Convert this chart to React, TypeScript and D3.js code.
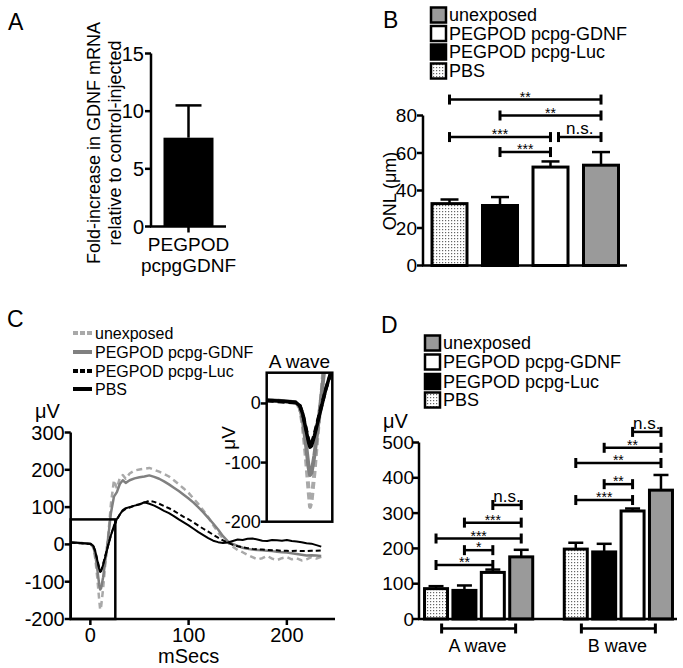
import React from "react";
import * as d3 from "d3";

const FONT = "'Liberation Sans', Arial, Helvetica, sans-serif";

// ---------- Panel A ----------
const foldCategory = ["PEGPOD pcpgGDNF"];
const foldLabelLines = ["PEGPOD", "pcpgGDNF"];
const foldMean = [7.7];
const foldErr = [2.8];
const foldTicks = [0, 5, 10, 15];

// ---------- Groups (B, D) ----------
const groupNames = ["PBS", "PEGPOD pcpg-Luc", "PEGPOD pcpg-GDNF", "unexposed"];
const legendOrder = ["unexposed", "PEGPOD pcpg-GDNF", "PEGPOD pcpg-Luc", "PBS"];

// ---------- Panel B ----------
const onlMean = [33, 32, 52.5, 53.5];
const onlErr = [2.2, 4.5, 3, 7];
const onlTicks = [0, 20, 40, 60, 80];
const onlBrackets: [number, number, number, string][] = [
  [0, 3, 88.5, "**"],
  [1, 3, 80, "**"],
  [0, 2, 68.5, "***"],
  [2, 3, 68.5, "n.s."],
  [1, 2, 60.5, "***"],
];

// ---------- Panel D ----------
const waveNames = ["A wave", "B wave"];
const aWaveMean = [86, 81, 132, 176];
const aWaveErr = [7, 14, 8, 20];
const bWaveMean = [198, 190, 306, 365];
const bWaveErr = [18, 23, 7, 43];
const waveTicks = [0, 100, 200, 300, 400, 500];
const aWaveBrackets: [number, number, number, string][] = [
  [0, 2, 153, "**"],
  [1, 2, 195, "*"],
  [0, 3, 228, "***"],
  [1, 3, 273, "***"],
  [2, 3, 323, "n.s."],
];
const bWaveBrackets: [number, number, number, string][] = [
  [0, 2, 337, "***"],
  [1, 2, 382, "**"],
  [0, 3, 442, "**"],
  [1, 3, 485, "**"],
  [2, 3, 530, "n.s."],
];

// ---------- Panel C (ERG traces) ----------
const ergTime = [-20, -10, 0, 3, 5, 7, 9, 10, 11, 13, 15, 18, 21, 24, 27, 30, 33, 36, 40,
  45, 50, 55, 60, 65, 70, 75, 80, 85, 90, 95, 100, 105, 110, 115, 120, 125, 130, 135, 140,
  145, 150, 155, 160, 165, 170, 175, 180, 185, 190, 195, 200, 205, 210, 215, 220, 225, 230, 235];
const ergPbs = [5, 4, 2, -4, -18, -42, -66, -74, -72, -55, -35, -5, 25, 50, 68, 80, 92, 97, 100,
  104, 107, 113, 109, 104, 97, 90, 84, 76, 67, 59, 51, 42, 33, 25, 17, 10, 6, 4, 5,
  9, 13, 12, 15, 16, 13, 10, 9, 12, 11, 10, 12, 9, 8, 6, 3, 2, -2, -6];
const ergLuc = [5, 3, 1, -4, -18, -40, -62, -70, -68, -52, -32, -3, 25, 48, 66, 80, 90, 95, 99,
  104, 108, 112, 117, 114, 109, 103, 97, 90, 82, 74, 67, 59, 50, 42, 34, 26, 18, 11, 4,
  -1, -5, -8, -10, -12, -13, -14, -15, -16, -16, -17, -17, -18, -17, -18, -18, -17, -17, -16];
const ergGdnf = [6, 4, 2, -6, -28, -65, -108, -121, -117, -88, -48, 15, 85, 128, 140, 162, 172, 165, 172,
  177, 180, 182, 185, 181, 176, 169, 161, 152, 143, 133, 123, 112, 99, 86, 71, 56, 40, 22, 8,
  1, -4, -9, -12, -14, -15, -16, -17, -18, -20, -21, -22, -24, -26, -28, -30, -29, -30, -31];
const ergUnexposed = [6, 4, 2, -8, -38, -88, -148, -175, -166, -118, -58, 18, 110, 172, 150, 178, 186, 176, 190,
  198, 201, 203, 205, 200, 195, 189, 182, 172, 161, 150, 138, 123, 108, 91, 73, 52, 32, 16, 5,
  -6, -15, -21, -28, -34, -40, -37, -31, -38, -42, -37, -34, -40, -37, -43, -40, -34, -38, -33];
const ergSeries = [
  { name: "unexposed", values: ergUnexposed },
  { name: "PEGPOD pcpg-GDNF", values: ergGdnf },
  { name: "PEGPOD pcpg-Luc", values: ergLuc },
  { name: "PBS", values: ergPbs },
];
const ergYTicks = [-200, -100, 0, 100, 200, 300];
const ergXTicks = [0, 100, 200];
const insetTicks = [-200, -100, 0];
const insetXDomain = [-20, 25.4];
const insetYDomain = [-200, 52];

const barFill: Record<string, string> = {
  PBS: "url(#stipple)",
  "PEGPOD pcpg-Luc": "#000",
  "PEGPOD pcpg-GDNF": "#fff",
  unexposed: "#9a9a9a",
};
const lineStyle: Record<string, { stroke: string; dash?: string; w: number }> = {
  unexposed: { stroke: "#a9a9a9", dash: "6,4", w: 2.5 },
  "PEGPOD pcpg-GDNF": { stroke: "#808080", w: 2.5 },
  "PEGPOD pcpg-Luc": { stroke: "#000", dash: "5,3", w: 2 },
  PBS: { stroke: "#000", w: 2 },
};

function Bracket({ x1, x2, y, label, sw = 2.5 }: { x1: number; x2: number; y: number; label: string; sw?: number }) {
  const isStar = label.indexOf("*") >= 0;
  return (
    <g>
      <line x1={x1} x2={x2} y1={y} y2={y} stroke="#000" strokeWidth={sw} />
      <line x1={x1} x2={x1} y1={y - 5} y2={y + 5} stroke="#000" strokeWidth={3} />
      <line x1={x2} x2={x2} y1={y - 5} y2={y + 5} stroke="#000" strokeWidth={3} />
      {label ? (
        <text
          x={(x1 + x2) / 2}
          y={isStar ? y + 2 : y - 3}
          textAnchor="middle"
          fontSize={isStar ? 14 : 17}
          fontFamily={FONT}
        >
          {label}
        </text>
      ) : null}
    </g>
  );
}

function LegendBoxes({ x, ys, fs }: { x: number; ys: number[]; fs: number }) {
  return (
    <g>
      {legendOrder.map((name, i) => (
        <g key={name}>
          <rect x={x} y={ys[i] - 7.5} width={15} height={15} fill={barFill[name]} stroke="#000" strokeWidth={2.5} />
          <text x={x + 18} y={ys[i]} dominantBaseline="central" fontSize={fs} fontFamily={FONT}>
            {name}
          </text>
        </g>
      ))}
    </g>
  );
}

function PanelA() {
  const y = d3.scaleLinear().domain([0, 15]).range([226.5, 53.5]);
  const x = d3.scaleBand().domain(foldCategory).range([151, 226]).padding(0.2);
  const axisX = 151;
  return (
    <g>
      <text x={8} y={30} fontSize={23} fontFamily={FONT}>A</text>
      <text transform="translate(94,143) rotate(-90)" textAnchor="middle" dominantBaseline="central" fontSize={18} fontFamily={FONT}>
        Fold-increase in GDNF mRNA
      </text>
      <text transform="translate(115,143) rotate(-90)" textAnchor="middle" dominantBaseline="central" fontSize={18} fontFamily={FONT}>
        relative to control-injected
      </text>
      {foldCategory.map((c, i) => {
        const bx = x(c)!;
        const cx = bx + x.bandwidth() / 2;
        return (
          <g key={c}>
            <line x1={cx} x2={cx} y1={y(foldMean[i])} y2={y(foldMean[i] + foldErr[i])} stroke="#000" strokeWidth={2.5} />
            <line x1={cx - 13} x2={cx + 13} y1={y(foldMean[i] + foldErr[i])} y2={y(foldMean[i] + foldErr[i])} stroke="#000" strokeWidth={2.5} />
            <rect x={bx} y={y(foldMean[i])} width={x.bandwidth()} height={y(0) - y(foldMean[i])} fill="#000" />
            <line x1={cx} x2={cx} y1={y(0)} y2={y(0) + 6} stroke="#000" strokeWidth={2.5} />
            {foldLabelLines.map((l, k) => (
              <text key={l} x={cx} y={y(0) + 18 + k * 21} textAnchor="middle" dominantBaseline="central" fontSize={19} fontFamily={FONT}>
                {l}
              </text>
            ))}
          </g>
        );
      })}
      <line x1={axisX} x2={axisX} y1={y(15)} y2={y(0)} stroke="#000" strokeWidth={2.5} />
      <line x1={axisX - 1} x2={226} y1={y(0)} y2={y(0)} stroke="#000" strokeWidth={2.5} />
      {foldTicks.map((t) => (
        <g key={t}>
          <line x1={axisX - 6} x2={axisX} y1={y(t)} y2={y(t)} stroke="#000" strokeWidth={2.5} />
          <text x={axisX - 7} y={y(t)} textAnchor="end" dominantBaseline="central" fontSize={20} fontFamily={FONT}>
            {t}
          </text>
        </g>
      ))}
    </g>
  );
}

function PanelB() {
  const y = d3.scaleLinear().domain([0, 80]).range([265.5, 115.5]);
  const x = d3.scaleBand().domain(groupNames).range([432, 618.5]).paddingInner(0.307).paddingOuter(0);
  const cx = (i: number) => x(groupNames[i])! + x.bandwidth() / 2;
  const axisX = 423;
  return (
    <g>
      <text x={383} y={28} fontSize={23} fontFamily={FONT}>B</text>
      <LegendBoxes x={431} ys={[15, 33.5, 52, 71]} fs={18} />
      <text transform="translate(390,191) rotate(-90)" textAnchor="middle" dominantBaseline="central" fontSize={18} fontFamily={FONT}>
        ONL (μm)
      </text>
      {groupNames.map((g, i) => {
        const bx = x(g)!;
        const c = cx(i);
        const top = y(onlMean[i] + onlErr[i]);
        return (
          <g key={g}>
            <line x1={c} x2={c} y1={y(onlMean[i])} y2={top} stroke="#000" strokeWidth={2.5} />
            <line x1={c - 9} x2={c + 9} y1={top} y2={top} stroke="#000" strokeWidth={2.5} />
            <rect x={bx} y={y(onlMean[i])} width={x.bandwidth()} height={y(0) - y(onlMean[i])} fill={barFill[g]} stroke="#000" strokeWidth={3} />
          </g>
        );
      })}
      {onlBrackets.map(([a, b, v, l], i) => {
        const clash = onlBrackets.some(([a2, b2, v2], j) => j !== i && v2 === v && b2 === a);
        return <Bracket key={i} x1={cx(a) + (clash ? 8 : 0)} x2={cx(b)} y={y(v)} label={l} />;
      })}
      <line x1={axisX} x2={axisX} y1={y(80)} y2={y(0)} stroke="#000" strokeWidth={2.5} />
      <line x1={axisX - 1} x2={627} y1={y(0)} y2={y(0)} stroke="#000" strokeWidth={2.5} />
      {onlTicks.map((t) => (
        <g key={t}>
          <line x1={axisX - 6} x2={axisX} y1={y(t)} y2={y(t)} stroke="#000" strokeWidth={2.5} />
          <text x={axisX - 6} y={y(t)} textAnchor="end" dominantBaseline="central" fontSize={19} fontFamily={FONT}>
            {t}
          </text>
        </g>
      ))}
    </g>
  );
}

function PanelC() {
  const x = d3.scaleLinear().domain([-20, 249]).range([70.7, 335]);
  const y = d3.scaleLinear().domain([-200, 300]).range([619, 432.5]);
  const ix = d3.scaleLinear().domain(insetXDomain).range([266.7, 332.3]);
  const iy = d3.scaleLinear().domain(insetYDomain).range([521.7, 372.7]);
  const mkLine = (sx: any, sy: any) =>
    d3.line<number>().x((_, i) => sx(ergTime[i])).y((d) => sy(d)).curve(d3.curveLinear);
  const mainLine = mkLine(x, y);
  const insetLine = mkLine(ix, iy);
  const legendYs = [333, 352, 371, 389];
  return (
    <g>
      <text x={7} y={327} fontSize={23} fontFamily={FONT}>C</text>
      {ergSeries.map((s, i) => {
        const st = lineStyle[s.name];
        return (
          <g key={s.name}>
            <line x1={73} x2={92} y1={legendYs[i]} y2={legendYs[i]} stroke={st.stroke} strokeWidth={4} strokeDasharray={st.dash ? "5,2" : undefined} />
            <text x={95} y={legendYs[i]} dominantBaseline="central" fontSize={16} fontFamily={FONT}>
              {s.name}
            </text>
          </g>
        );
      })}
      <text x={35} y={411} dominantBaseline="central" fontSize={20} fontFamily={FONT}>μV</text>
      {ergSeries.map((s) => {
        const st = lineStyle[s.name];
        return (
          <path key={s.name} d={mainLine(s.values)!} fill="none" stroke={st.stroke} strokeWidth={st.w} strokeDasharray={st.dash} strokeLinejoin="round" />
        );
      })}
      <rect x={x(-20)} y={y(67)} width={x(25.4) - x(-20)} height={y(-200) - y(67)} fill="none" stroke="#000" strokeWidth={2.5} />
      <line x1={x(-20)} x2={x(-20)} y1={y(300)} y2={y(-200)} stroke="#000" strokeWidth={2.5} />
      <line x1={x(-20) - 1} x2={335} y1={y(-200)} y2={y(-200)} stroke="#000" strokeWidth={2.5} />
      {ergYTicks.map((t) => (
        <g key={t}>
          <line x1={x(-20) - 6} x2={x(-20)} y1={y(t)} y2={y(t)} stroke="#000" strokeWidth={2.5} />
          <text x={x(-20) - 6} y={y(t)} textAnchor="end" dominantBaseline="central" fontSize={20} fontFamily={FONT}>
            {t}
          </text>
        </g>
      ))}
      {ergXTicks.map((t) => (
        <g key={t}>
          <line x1={x(t)} x2={x(t)} y1={y(-200)} y2={y(-200) + 6} stroke="#000" strokeWidth={2.5} />
          <text x={x(t)} y={y(-200) + 16} textAnchor="middle" dominantBaseline="central" fontSize={20} fontFamily={FONT}>
            {t}
          </text>
        </g>
      ))}
      <text x={x(100)} y={656} textAnchor="middle" dominantBaseline="central" fontSize={20} fontFamily={FONT}>mSecs</text>

      {/* inset */}
      <defs>
        <clipPath id="insetClip">
          <rect x={ix(insetXDomain[0])} y={iy(insetYDomain[1])} width={ix(insetXDomain[1]) - ix(insetXDomain[0])} height={iy(insetYDomain[0]) - iy(insetYDomain[1])} />
        </clipPath>
      </defs>
      <rect x={ix(insetXDomain[0])} y={iy(insetYDomain[1])} width={ix(insetXDomain[1]) - ix(insetXDomain[0])} height={iy(insetYDomain[0]) - iy(insetYDomain[1])} fill="#fff" stroke="none" />
      <g clipPath="url(#insetClip)">
        {ergSeries.map((s) => {
          const st = lineStyle[s.name];
          return (
            <path key={s.name} d={insetLine(s.values)!} fill="none" stroke={st.stroke} strokeWidth={st.w + 1.5} strokeDasharray={st.dash ? "7,4" : undefined} strokeLinejoin="round" />
          );
        })}
      </g>
      <rect x={ix(insetXDomain[0])} y={iy(insetYDomain[1])} width={ix(insetXDomain[1]) - ix(insetXDomain[0])} height={iy(insetYDomain[0]) - iy(insetYDomain[1])} fill="none" stroke="#000" strokeWidth={2.5} />
      <text x={(ix(insetXDomain[0]) + ix(insetXDomain[1])) / 2} y={361} textAnchor="middle" dominantBaseline="central" fontSize={19} fontFamily={FONT}>A wave</text>
      {insetTicks.map((t) => (
        <g key={t}>
          <line x1={ix(-20) - 6} x2={ix(-20)} y1={iy(t)} y2={iy(t)} stroke="#000" strokeWidth={2.5} />
          <text x={ix(-20) - 6} y={iy(t)} textAnchor="end" dominantBaseline="central" fontSize={18} fontFamily={FONT}>
            {t}
          </text>
        </g>
      ))}
      <text transform="translate(228,438) rotate(-90)" textAnchor="middle" dominantBaseline="central" fontSize={19} fontFamily={FONT}>μV</text>
    </g>
  );
}

function PanelD() {
  const y = d3.scaleLinear().domain([0, 500]).range([619, 442.5]);
  const x0 = d3.scaleBand().domain(waveNames).range([408.75, 688.25]).padding(0);
  const x1 = d3.scaleBand().domain(groupNames).range([-54.1, 54.1]).paddingInner(0.19).paddingOuter(0);
  const means = [aWaveMean, bWaveMean];
  const errs = [aWaveErr, bWaveErr];
  const brackets = [aWaveBrackets, bWaveBrackets];
  const axisX = 419;
  return (
    <g>
      <text x={381} y={333} fontSize={23} fontFamily={FONT}>D</text>
      <LegendBoxes x={425} ys={[343, 362, 381.5, 400]} fs={18} />
      <text x={383} y={421} dominantBaseline="central" fontSize={20} fontFamily={FONT}>μV</text>
      {waveNames.map((w, wi) => {
        const gc = x0(w)! + x0.bandwidth() / 2;
        const cx = (i: number) => gc + x1(groupNames[i])! + x1.bandwidth() / 2;
        return (
          <g key={w}>
            {groupNames.map((g, i) => {
              const bx = gc + x1(g)!;
              const c = cx(i);
              const m = means[wi][i];
              const top = y(m + errs[wi][i]);
              return (
                <g key={g}>
                  <line x1={c} x2={c} y1={y(m)} y2={top} stroke="#000" strokeWidth={2.5} />
                  <line x1={c - 7.5} x2={c + 7.5} y1={top} y2={top} stroke="#000" strokeWidth={2.5} />
                  <rect x={bx} y={y(m)} width={x1.bandwidth()} height={y(0) - y(m)} fill={barFill[g]} stroke="#000" strokeWidth={3} />
                </g>
              );
            })}
            {brackets[wi].map(([a, b, v, l], k) => (
              <Bracket key={k} x1={cx(a)} x2={cx(b)} y={y(v)} label={l} />
            ))}
            <Bracket x1={gc - 37} x2={gc + 37} y={628.5} label="" />
            <text x={gc - 1} y={646} textAnchor="middle" dominantBaseline="central" fontSize={18} fontFamily={FONT}>
              {w}
            </text>
          </g>
        );
      })}
      <line x1={axisX} x2={axisX} y1={y(500)} y2={y(0)} stroke="#000" strokeWidth={2.5} />
      <line x1={axisX - 1} x2={677} y1={y(0)} y2={y(0)} stroke="#000" strokeWidth={2.5} />
      {waveTicks.map((t) => (
        <g key={t}>
          <line x1={axisX - 6} x2={axisX} y1={y(t)} y2={y(t)} stroke="#000" strokeWidth={2.5} />
          <text x={axisX - 5} y={y(t)} textAnchor="end" dominantBaseline="central" fontSize={19} fontFamily={FONT}>
            {t}
          </text>
        </g>
      ))}
    </g>
  );
}

export default function App() {
  return (
    <svg width={683} height={668} viewBox="0 0 683 668" style={{ position: "absolute", left: 0, top: 0, background: "#fff" }}>
      <defs>
        <pattern id="stipple" patternUnits="userSpaceOnUse" width={3} height={3}>
          <rect width={3} height={3} fill="#fff" />
          <rect x={1} y={1} width={1.2} height={1.2} fill="#666" />
        </pattern>
      </defs>
      <rect width={683} height={668} fill="#fff" />
      <PanelA />
      <PanelB />
      <PanelC />
      <PanelD />
    </svg>
  );
}
